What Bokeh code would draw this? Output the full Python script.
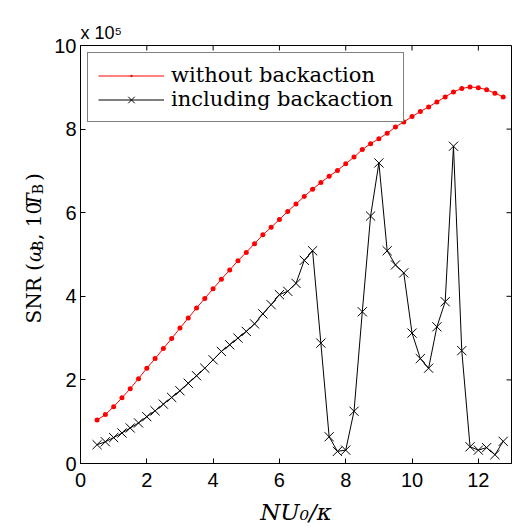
from bokeh.plotting import figure
from bokeh.models import Range1d, FixedTicker
from bokeh.layouts import row
from bokeh.core.properties import value
from bokeh.embed import file_html
from bokeh.resources import INLINE

# ---- data (SNR in units of 1e5) ----
coupling = [0.5, 0.75, 1.0, 1.25, 1.5, 1.75, 2.0, 2.25, 2.5, 2.75,
            3.0, 3.25, 3.5, 3.75, 4.0, 4.25, 4.5, 4.75, 5.0, 5.25,
            5.5, 5.75, 6.0, 6.25, 6.5, 6.75, 7.0, 7.25, 7.5, 7.75,
            8.0, 8.25, 8.5, 8.75, 9.0, 9.25, 9.5, 9.75, 10.0, 10.25,
            10.5, 10.75, 11.0, 11.25, 11.5, 11.75, 12.0, 12.25, 12.5, 12.75]

snr_without = [1.04, 1.17, 1.36, 1.57, 1.79, 2.03, 2.28, 2.51, 2.75, 2.99,
               3.24, 3.48, 3.72, 3.95, 4.18, 4.41, 4.63, 4.85, 5.05, 5.26,
               5.47, 5.65, 5.84, 6.03, 6.21, 6.39, 6.56, 6.72, 6.87, 7.01,
               7.17, 7.33, 7.51, 7.65, 7.77, 7.90, 8.05, 8.17, 8.30, 8.42,
               8.53, 8.65, 8.77, 8.89, 8.97, 9.01, 8.99, 8.94, 8.86, 8.77]

snr_including = [0.45, 0.52, 0.62, 0.73, 0.85, 0.97, 1.12, 1.26, 1.42, 1.58,
                 1.74, 1.92, 2.10, 2.28, 2.48, 2.68, 2.84, 3.00, 3.16, 3.34,
                 3.58, 3.80, 4.04, 4.12, 4.31, 4.86, 5.09, 2.88, 0.64, 0.29,
                 0.32, 1.25, 3.63, 5.92, 7.19, 5.09, 4.75, 4.56, 3.12, 2.51,
                 2.28, 3.27, 3.87, 7.59, 2.70, 0.40, 0.32, 0.38, 0.21, 0.53]

x_ticks = [0, 2, 4, 6, 8, 10, 12]
y_ticks = [0, 2, 4, 6, 8, 10]
label_without = "without backaction"
label_including = "including backaction"
exponent_text = "x 10⁵"
x_label = "NU₀/κ"
# y label pieces: (text, is_subscript, italic)
y_label_parts = [("SNR (", False, False), ("ω", False, True), ("B", True, False),
                 (", 10", False, False), ("T", False, True), ("B", True, False),
                 (")", False, False)]

TICK_FONT = "Liberation Sans"
SERIF = "DejaVu Serif"
X_MAX, Y_MAX = 13, 10
W, H = 512, 531
LEFT_W = 48

# ---------- main plot ----------
p = figure(width=W - LEFT_W, height=H, output_backend="svg", toolbar_location=None,
           x_range=Range1d(0, X_MAX), y_range=Range1d(0, Y_MAX),
           min_border_left=80 - LEFT_W, min_border_right=1, min_border_top=45,
           min_border_bottom=68)
p.background_fill_color = "white"
p.border_fill_color = "white"
p.outline_line_color = "black"
p.outline_line_width = 1
p.xgrid.visible = False
p.ygrid.visible = False

p.title.text = exponent_text
p.title.text_font = TICK_FONT
p.title.text_font_size = "18px"
p.title.text_font_style = "normal"
p.title.text_color = "black"
p.title.align = "left"
p.title.standoff = 5

p.line(coupling, snr_without, color="#ff0000", line_width=1, legend_label=label_without)
p.scatter(coupling, snr_without, marker="dot", size=20, color="#ff0000", legend_label=label_without)
p.line(coupling, snr_including, color="black", line_width=1, legend_label=label_including)
p.scatter(coupling, snr_including, marker="x", size=13, line_color="black", line_width=1,
          legend_label=label_including)

# mirrored inward ticks on top and right edges (5 px long)
tick_dx = 5 * X_MAX / (W - 80 - 1)
tick_dy = 5 * Y_MAX / (H - 45 - 68)
p.segment(x0=[X_MAX] * len(y_ticks), y0=y_ticks, x1=[X_MAX - tick_dx] * len(y_ticks), y1=y_ticks,
          line_color="black", line_width=1)
p.segment(x0=x_ticks, y0=[Y_MAX] * len(x_ticks), x1=x_ticks, y1=[Y_MAX - tick_dy] * len(x_ticks),
          line_color="black", line_width=1)

for ax, ticks, standoff in ((p.xaxis[0], x_ticks, 9), (p.yaxis[0], y_ticks, 4)):
    ax.ticker = FixedTicker(ticks=ticks)
    ax.major_tick_in = 5
    ax.major_tick_out = 0
    ax.minor_tick_line_color = None
    ax.axis_line_color = "black"
    ax.major_tick_line_color = "black"
    ax.major_label_standoff = standoff
    ax.major_label_text_font = TICK_FONT
    ax.major_label_text_font_size = "20px"
    ax.major_label_text_color = "black"

p.xaxis[0].axis_label = x_label
p.xaxis[0].axis_label_text_font = SERIF
p.xaxis[0].axis_label_text_font_style = "italic"
p.xaxis[0].axis_label_text_font_size = "23px"
p.xaxis[0].axis_label_text_color = "black"
p.xaxis[0].axis_label_standoff = 9

leg = p.legend[0]
leg.location = "top_left"
leg.margin = 7
leg.padding = 10
leg.spacing = 0
leg.label_height = 23
leg.glyph_height = 23
leg.glyph_width = 66
leg.label_standoff = 7
leg.label_text_font = SERIF
leg.label_text_font_size = "21px"
leg.label_text_color = "black"
leg.border_line_color = "black"
leg.border_line_width = 1
leg.background_fill_color = "white"
leg.background_fill_alpha = 1.0

# ---------- left strip holding the rotated y-axis label ----------
q = figure(width=LEFT_W, height=H, output_backend="svg", toolbar_location=None,
           x_range=Range1d(0, LEFT_W), y_range=Range1d(0, H),
           x_axis_type=None, y_axis_type=None,
           min_border_left=0, min_border_right=0, min_border_top=0, min_border_bottom=0)
q.outline_line_color = None
q.xgrid.visible = False
q.ygrid.visible = False
q.background_fill_color = "white"
q.border_fill_color = "white"

# start of each piece (pixels from top) along the rotated baseline
starts_from_top = [353, 275, 261, 247, 205, 189, 172]
BASE_X, SUB_X = 33, 37
for (txt, is_sub, italic), top_px in zip(y_label_parts, starts_from_top):
    q.text(x=[SUB_X if is_sub else BASE_X], y=[H - top_px], text=[txt], angle=1.5707963,
           text_font=value(SERIF), text_font_size="14px" if is_sub else "20px",
           text_font_style="italic" if italic else "normal", text_color="black",
           text_baseline="alphabetic", text_align="left")

layout = row(q, p)
open("out.html", "w").write(file_html(layout, INLINE))
